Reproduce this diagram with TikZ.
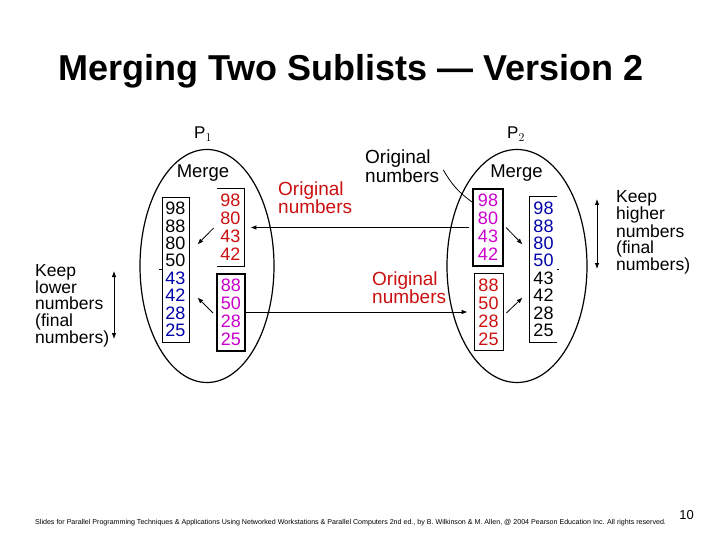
\documentclass[tikz,border=0pt]{standalone}
\usepackage{fontspec}
\setmainfont{Liberation Sans}
\usepackage{xcolor}
\usetikzlibrary{shapes.geometric, arrows.meta, calc}

\definecolor{numred}{RGB}{204,16,16}
\definecolor{nummag}{RGB}{204,0,204}
\definecolor{numblue}{RGB}{0,0,170}

\begin{document}
\begin{tikzpicture}[x=1pt, y=-1pt,
  proc/.style={ellipse, draw, line width=1.2pt, inner sep=0pt},
  numbox/.style={rectangle, inner sep=0pt, align=center, font=\fontsize{18}{18}\selectfont},
  mergebox/.style={numbox, draw, line width=0.8pt, minimum width=27pt, minimum height=145pt, font=\fontsize{18}{17.4}\selectfont},
  sentbox/.style={numbox, draw, line width=2pt, minimum height=77pt},
  recvbox/.style={numbox, line width=0.8pt, minimum height=77pt},
  note/.style={anchor=north west, align=left, inner sep=0pt, font=\fontsize{19}{15.5}\selectfont},
  keep/.style={anchor=north west, align=left, inner sep=0pt, font=\fontsize{17.5}{16.2}\selectfont},
  arrow/.style={-{Latex[length=6pt,width=4.5pt]}, line width=0.8pt},
  dblarrow/.style={{Latex[length=6pt,width=4.5pt]}-{Latex[length=6pt,width=4.5pt]}, line width=0.8pt}
]
\useasboundingbox[fill=white] (0,0) rectangle (720,540);

\node[anchor=base, font=\fontsize{36}{36}\selectfont\bfseries] (title) at (351,81) {Merging Two Sublists --- Version 2};

% the two processes
\node[proc, minimum width=134pt, minimum height=233pt] (proc1) at (207,266) {};
\node[proc, minimum width=140pt, minimum height=233pt] (proc2) at (517,266) {};
\node[anchor=base west, inner sep=0pt, font=\fontsize{17}{17}\selectfont] (p1) at (194,139) {P$_1$};
\node[anchor=base west, inner sep=0pt, font=\fontsize{17}{17}\selectfont] (p2) at (507,139) {P$_2$};
\node[anchor=base, inner sep=0pt, font=\fontsize{18.5}{18.5}\selectfont] (mrg1) at (203,178) {Merge};
\node[anchor=base, inner sep=0pt, font=\fontsize{18.5}{18.5}\selectfont] (mrg2) at (516.5,178) {Merge};

% P1 lists
\node[mergebox] (merge1) at (175.5,269.5) {98\\88\\80\\50\\\textcolor{numblue}{43}\\\textcolor{numblue}{42}\\\textcolor{numblue}{28}\\\textcolor{numblue}{25}};
\node[recvbox, text=numred, minimum width=27pt] (pred1) at (230.5,227.5) {98\\80\\43\\42};
\node[sentbox, text=nummag, minimum width=28pt] (pmag1) at (231,312) {88\\50\\28\\25};
\draw[line width=0.8pt] (pred1.north west) -- (pred1.north east) -- (pred1.south east) -- (pred1.south west);
\draw[line width=0.8pt] (merge1.west) -- ++(-3,0);

% P2 lists
\node[sentbox, text=nummag, minimum width=30pt] (pmag2) at (488,227.5) {98\\80\\43\\42};
\node[recvbox, draw, text=numred, minimum width=29pt] (pred2) at (488.5,312) {88\\50\\28\\25};
\node[mergebox, draw=none] (merge2) at (543.5,269.5) {\textcolor{numblue}{98}\\\textcolor{numblue}{88}\\\textcolor{numblue}{80}\\\textcolor{numblue}{50}\\43\\42\\28\\25};
\draw[line width=0.8pt] (merge2.north east) -- (merge2.north west) -- (merge2.south west) -- (merge2.south east);
\draw[line width=0.6pt] (merge2.east) -- ++(2,0);

% exchange of the halves
\draw[arrow, shorten <=3pt, shorten >=6pt] (pmag2.west) -- (pred1.east);
\draw[arrow, shorten >=6pt] (pmag1.east) -- (pred2.west);

% merging inside each process
\draw[arrow] ($(pred1.west)+(-3,0.5)$) -- ($(merge1.east)+(8,-25)$);
\draw[arrow] ($(pmag1.west)+(-3,1)$) -- ($(merge1.east)+(8,28)$);
\draw[arrow] ($(pmag2.east)+(2,0)$) -- ($(merge2.west)+(-7,-25)$);
\draw[arrow] ($(pred2.east)+(3,1)$) -- ($(merge2.west)+(-7,28)$);

% labels
\node[note, text=numred] (origa) at (278,181.1) {Original\\numbers};
\node[note] (origb) at (365,149.4) {Original\\numbers};
\node[note, text=numred] (origc) at (372,271.1) {Original\\numbers};
\draw[line width=0.8pt] ($(origb.east)+(4,4)$) to[bend right=12] ($(pmag2.north west)+(0,14)$);

\node[keep] (keeplo) at (35,264.2) {Keep\\lower\\numbers\\(final\\numbers)};
\node[keep] (keephi) at (616,190.2) {Keep\\higher\\numbers\\(final\\numbers)};
\coordinate (lotop) at (114,271);
\coordinate (lobot) at (114,339);
\coordinate (hitop) at (597,199);
\coordinate (hibot) at (597,269);
\draw[dblarrow] (lotop) -- (lobot);
\draw[dblarrow] (hitop) -- (hibot);

% footer
\node[anchor=base west, inner sep=0pt, font=\fontsize{7.1}{7.5}\selectfont] (foot) at (35,524) {Slides for Parallel Programming Techniques \& Applications Using Networked Workstations \& Parallel Computers 2nd ed., by B. Wilkinson \& M. Allen, @ 2004 Pearson Education Inc. All rights reserved.};
\node[anchor=base east, inner sep=0pt, font=\fontsize{13}{13}\selectfont] (pgno) at (694,519) {10};
\end{tikzpicture}
\end{document}
